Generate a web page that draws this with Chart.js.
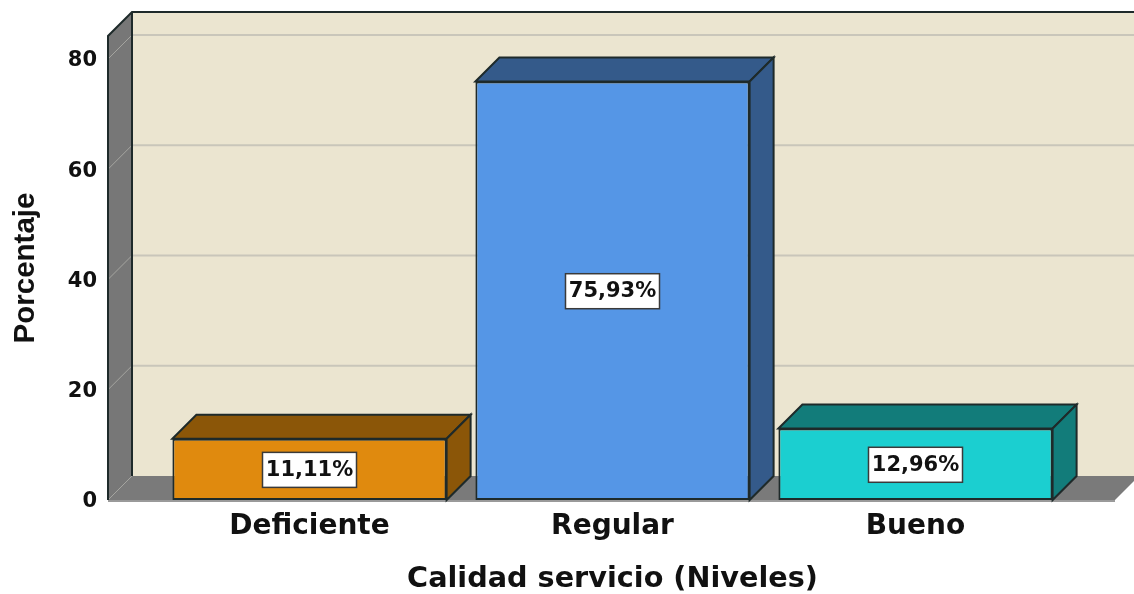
<!DOCTYPE html>
<html>
<head>
<meta charset="utf-8">
<title>Calidad servicio</title>
<script src="https://cdn.jsdelivr.net/npm/chart.js@4"></script>
<style>
    html, body { margin: 0; padding: 0; background: #fff; }
    canvas { display: block; }
</style>
</head>
<body>
<canvas id="chart" width="1134" height="594"></canvas>
<script>
const categories = ["Deficiente", "Regular", "Bueno"];
const percentages = [11.11, 75.93, 12.96];
const yTicks = [0, 20, 40, 60, 80];
const frontColors = ["#E08A0E", "#5596E6", "#1BCFD0"];
const darkColors = ["#8B5608", "#345A8A", "#127C7A"];

const DEPTH = 24;
const LINE = "#1E2A2A";

function poly(ctx, pts, fill, stroke, width) {
    ctx.beginPath();
    pts.forEach((p, i) => i ? ctx.lineTo(p[0], p[1]) : ctx.moveTo(p[0], p[1]));
    ctx.closePath();
    if (fill) { ctx.fillStyle = fill; ctx.fill(); }
    if (stroke) { ctx.strokeStyle = stroke; ctx.lineWidth = width; ctx.stroke(); }
}

// Back wall, left wall, floor and the depth faces of the bars
const box3d = {
    id: "box3d",
    beforeDatasetsDraw(chart) {
        const { ctx, chartArea, scales } = chart;
        const top = chartArea.top, bottom = chartArea.bottom;
        const left = chartArea.left - 50, right = chartArea.right + 48;
        ctx.save();

        // walls
        poly(ctx, [[left + DEPTH, top - DEPTH], [chart.width + 2, top - DEPTH], [chart.width + 2, bottom - DEPTH], [left + DEPTH, bottom - DEPTH]], "#EBE5D0");
        poly(ctx, [[left, top], [left + DEPTH, top - DEPTH], [left + DEPTH, bottom - DEPTH], [left, bottom]], "#777777");
        poly(ctx, [[left, bottom], [left + DEPTH, bottom - DEPTH], [right + DEPTH, bottom - DEPTH], [right, bottom]], "#7A7A7A");

        // grid lines on the wall, with the slanted part on the left side
        yTicks.forEach(v => {
            const y = scales.y.getPixelForValue(v);
            ctx.beginPath();
            ctx.moveTo(left, y);
            ctx.lineTo(left + DEPTH, y - DEPTH);
            ctx.strokeStyle = "#A5A5A0";
            ctx.lineWidth = 1;
            ctx.stroke();
            if (v > 0) {
                ctx.beginPath();
                ctx.moveTo(left + DEPTH, y - DEPTH);
                ctx.lineTo(chart.width + 2, y - DEPTH);
                ctx.strokeStyle = "#C9C6BA";
                ctx.lineWidth = 2;
                ctx.stroke();
            }
        });

        // wall outlines
        ctx.strokeStyle = LINE;
        ctx.lineWidth = 2;
        ctx.beginPath();
        ctx.moveTo(left, bottom);
        ctx.lineTo(left, top);
        ctx.lineTo(left + DEPTH, top - DEPTH);
        ctx.lineTo(chart.width + 2, top - DEPTH);
        ctx.moveTo(left + DEPTH, top - DEPTH);
        ctx.lineTo(left + DEPTH, bottom - DEPTH);
        ctx.stroke();
        ctx.strokeStyle = "#9A9A9A";
        ctx.beginPath();
        ctx.moveTo(left, bottom + 1);
        ctx.lineTo(right, bottom + 1);
        ctx.stroke();

        // bar tops and sides
        chart.getDatasetMeta(0).data.forEach((bar, i) => {
            const x0 = bar.x - bar.width / 2, x1 = bar.x + bar.width / 2;
            const yt = bar.y, yb = bar.base;
            poly(ctx, [[x0, yt], [x0 + DEPTH, yt - DEPTH], [x1 + DEPTH, yt - DEPTH], [x1, yt]], darkColors[i], LINE, 2);
            poly(ctx, [[x1, yt], [x1 + DEPTH, yt - DEPTH], [x1 + DEPTH, yb - DEPTH], [x1, yb]], darkColors[i], LINE, 2);
        });
        ctx.restore();
    },
    afterDatasetsDraw(chart) {
        const { ctx } = chart;
        ctx.save();
        ctx.font = "bold 21px 'DejaVu Sans'";
        ctx.textAlign = "center";
        ctx.textBaseline = "middle";
        chart.getDatasetMeta(0).data.forEach((bar, i) => {
            const cy = (bar.y + bar.base) / 2;
            ctx.fillStyle = "#FFFFFF";
            ctx.fillRect(bar.x - 47, cy - 17, 94, 35);
            ctx.strokeStyle = "#3A3A3A";
            ctx.lineWidth = 1.5;
            ctx.strokeRect(bar.x - 47, cy - 17, 94, 35);
            ctx.fillStyle = "#111111";
            ctx.fillText(percentages[i].toFixed(2).replace(".", ",") + "%", bar.x, cy + 1);
        });
        ctx.restore();
    }
};

new Chart(document.getElementById("chart"), {
    type: "bar",
    data: {
        labels: categories,
        datasets: [{
            data: percentages,
            backgroundColor: frontColors,
            borderColor: LINE,
            borderWidth: 2,
            borderSkipped: false,
            categoryPercentage: 1,
            barPercentage: 0.905
        }]
    },
    options: {
        responsive: false,
        animation: false,
        layout: { padding: { top: 36, right: 67, left: 0, bottom: 0 } },
        plugins: { legend: { display: false }, tooltip: { enabled: false } },
        scales: {
            x: {
                grid: { display: false },
                border: { display: false },
                afterFit(scale) { scale.height = 94; },
                ticks: {
                    color: "#111111",
                    padding: 2,
                    maxRotation: 0,
                    font: { family: "'DejaVu Sans'", weight: "bold", size: 28 }
                },
                title: {
                    display: true,
                    text: "Calidad servicio (Niveles)",
                    color: "#111111",
                    padding: { top: 14, bottom: -3 },
                    font: { family: "'DejaVu Sans'", weight: "bold", size: 28.7 }
                }
            },
            y: {
                min: 0,
                max: 84.17,
                grid: { display: false },
                border: { display: false },
                afterFit(scale) {
                    scale.width = 158;
                    // tick padding only moves the labels sideways here
                    scale.paddingTop = 0;
                    scale.paddingBottom = 0;
                },
                afterBuildTicks(scale) { scale.ticks = yTicks.map(v => ({ value: v })); },
                ticks: {
                    color: "#111111",
                    padding: 53,
                    labelOffset: 2,
                    font: { family: "'DejaVu Sans'", weight: "bold", size: 21 }
                },
                title: {
                    display: true,
                    text: "Porcentaje",
                    color: "#111111",
                    padding: { top: 8, bottom: 0 },
                    font: { family: "'Liberation Sans'", weight: "bold", size: 29.5 }
                }
            }
        }
    },
    plugins: [box3d]
});
</script>
</body>
</html>
